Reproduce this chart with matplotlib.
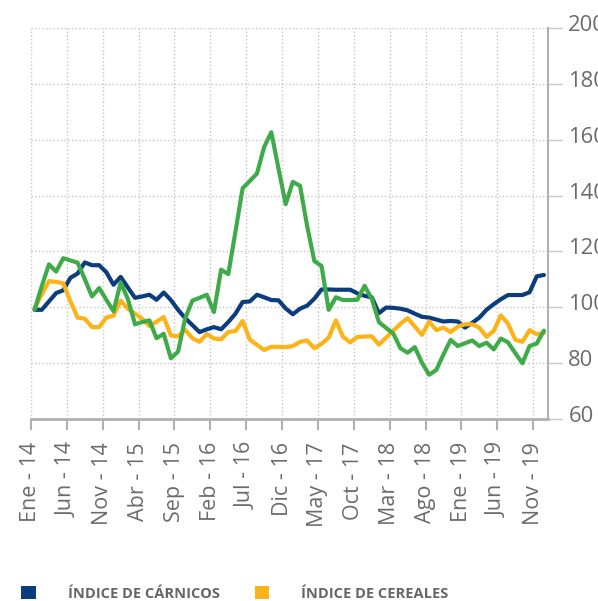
import numpy as np
import matplotlib.pyplot as plt
import matplotlib.transforms as mtransforms
from matplotlib.patches import Patch

plt.rcParams['font.family'] = ['Open Sans', 'DejaVu Sans']

# monthly index values, Ene-14 .. Dic-19 (Ene-14 = 100)
months = np.arange(72)

carnicos = [99, 99, 102, 105, 106, 110.5, 112, 116, 115, 115,
            112.5, 108, 110.8, 107, 103.3, 103.8, 104.4, 102.6, 105.2, 102.5,
            99, 96, 93.5, 91, 92, 92.8, 92, 94.6, 97.6, 101.8,
            102, 104.4, 103.5, 102.5, 102.4, 99.5, 97.4, 99.4, 100.5, 103,
            106.3, 106.3, 106.2, 106.2, 106.2, 104.9, 104, 103.5, 97.8, 99.8,
            99.7, 99.4, 98.8, 97.6, 96.5, 96.2, 95.5, 94.8, 95, 94.8,
            92.6, 94.3, 96.2, 99, 101, 102.8, 104.3, 104.3, 104.3, 105.3,
            111, 111.5]

cereales = [99.5, 104.5, 109.3, 109, 108.5, 102, 96.2, 95.8, 92.8, 92.8,
            96.2, 96.9, 102.3, 99.4, 97.6, 95.8, 93.2, 94.7, 96.4, 89.8,
            89.5, 91.8, 88.8, 87.5, 90.3, 88.7, 88.4, 91, 91.4, 95,
            88.3, 86.4, 84.6, 85.7, 85.7, 85.6, 86, 87.5, 88, 85.2,
            86.8, 89, 95.2, 89.3, 87.3, 89.3, 89.4, 89.5, 86.5, 89,
            91.5, 94, 96, 93, 90, 94.8, 91.7, 92.6, 91, 93,
            93.8, 93.8, 92.6, 89.3, 91.4, 97, 94, 88.3, 87.5, 91.7,
            90.2, 90.7]

# third series (its legend entry falls below the visible area)
tercera = [99, 107.5, 115.3, 112.7, 117.5, 116.7, 115.9, 110, 103.8, 106.8,
           102.6, 98.5, 108.8, 102.9, 93.8, 94.6, 95.2, 88.8, 90.4, 81.6,
           84, 96, 102.3, 103.3, 104.4, 98.2, 113.4, 111.8, 127, 142.6,
           145.2, 147.9, 157.4, 162.7, 149.7, 136.9, 144.9, 143.5, 129, 116.5,
           114.7, 99, 103.5, 102.5, 102.5, 102.6, 107.6, 103, 94.6, 92.5,
           90.5, 85.2, 83.6, 85.6, 80, 75.7, 77.4, 83, 88.2, 86,
           87, 88, 86, 87.2, 84.8, 88.7, 87.3, 83.5, 79.8, 86,
           86.9, 91.5]

tick_labels = ['Ene - 14', 'Jun - 14', 'Nov - 14', 'Abr - 15', 'Sep - 15',
               'Feb - 16', 'Jul - 16', 'Dic - 16', 'May - 17', 'Oct - 17',
               'Mar - 18', 'Ago - 18', 'Ene - 19', 'Jun - 19', 'Nov - 19']
y_ticks = [60, 80, 100, 120, 140, 160, 180, 200]

navy = '#0b3c7c'
orange = '#fdb217'
green = '#3eab48'
grey_txt = '#6b6b6b'

fig = plt.figure(figsize=(5.98, 6.01), dpi=100)
ax = fig.add_axes([31 / 598, 182.5 / 601, 516.5 / 598, 390.2 / 601])

# points sit in the middle of each month slot
x = months + 0.5
kw = dict(lw=3, solid_joinstyle='round', solid_capstyle='round')
ax.plot(x, carnicos, color=navy, zorder=3, **kw)
ax.plot(x, cereales, color=orange, zorder=4, **kw)
ax.plot(x, tercera, color=green, zorder=5, **kw)

ax.set_xlim(0, 72)
ax.set_ylim(60, 200)
ax.set_xticks(np.arange(0, 71, 5))
ax.set_xticklabels(tick_labels, rotation=90, fontsize=15.5, color=grey_txt)
ax.set_yticks(y_ticks)
ax.yaxis.tick_right()
ax.tick_params(axis='y', length=10, width=1, color='#c8c8c8', pad=5,
               labelsize=15.8, labelcolor=grey_txt)
ax.tick_params(axis='x', length=8, width=1.5, color='#b0b0b0', pad=9)

ax.grid(True, linestyle=':', color='#c4c4c4', linewidth=1)
ax.set_axisbelow(True)
for s in ['top', 'left']:
    ax.spines[s].set_visible(False)
ax.spines['right'].set_color('#b0b0b0')
ax.spines['right'].set_linewidth(1.5)
ax.spines['bottom'].set_color('#b0b0b0')
ax.spines['bottom'].set_linewidth(2)

# y labels sit slightly above their grid lines
shift = mtransforms.ScaledTranslation(0, 0.05, fig.dpi_scale_trans)
for lbl in ax.get_yticklabels():
    lbl.set_transform(lbl.get_transform() + shift)

handles = [Patch(facecolor=navy, edgecolor='none', label='ÍNDICE DE CÁRNICOS'),
           Patch(facecolor=orange, edgecolor='none', label='ÍNDICE DE CEREALES')]
fig.legend(handles=handles, loc='upper left', bbox_to_anchor=(21 / 598, 1 - 586 / 601),
           ncol=2, frameon=False, handlelength=1.0, handleheight=1.0,
           handletextpad=2.2, columnspacing=2.4, borderpad=0, borderaxespad=0,
           prop={'size': 10.5, 'weight': 'bold'}, labelcolor='#666666')

fig.savefig('out.png', dpi=100)
